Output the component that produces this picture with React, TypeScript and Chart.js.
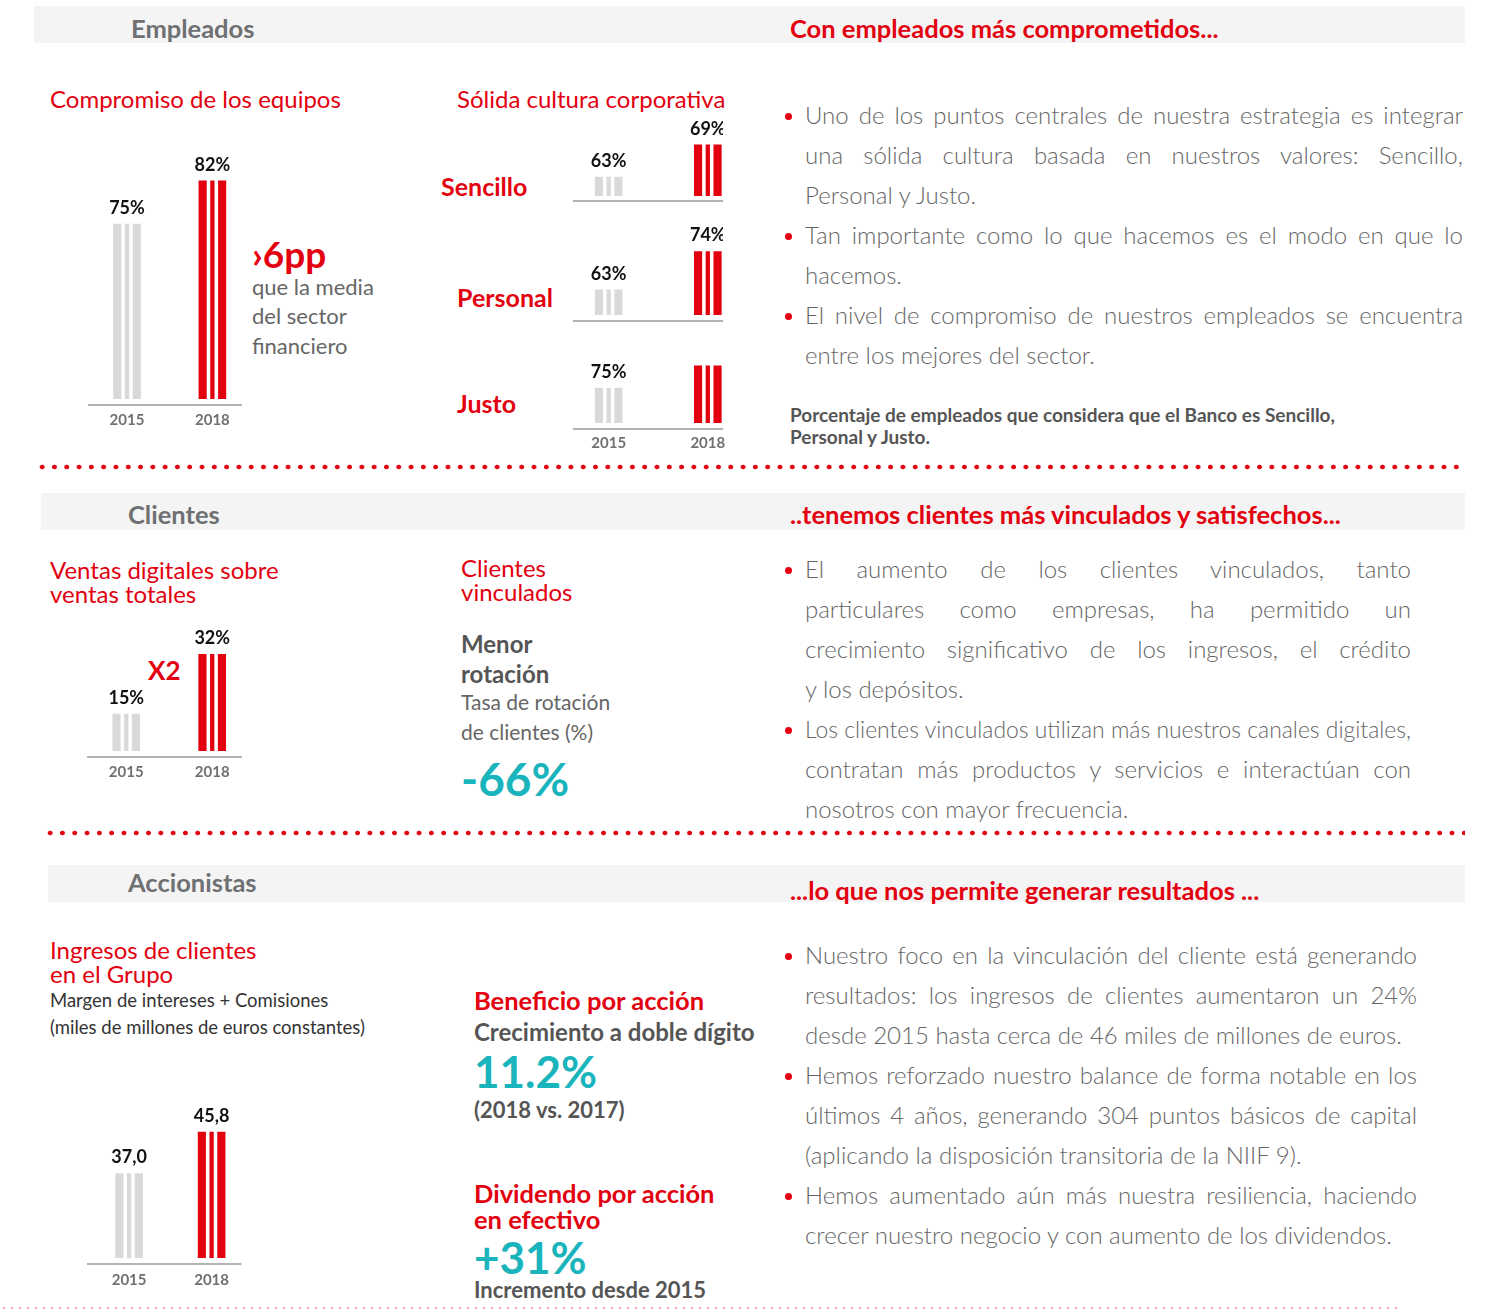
import React, { useEffect, useLayoutEffect, useRef } from "react";
import { Chart, registerables } from "chart.js";

Chart.register(...registerables);
Chart.defaults.font.family = "Lato";

// ---------- DATA ----------
const YEARS = [2015, 2018];
const compromisoValues = [75, 82];
const compromisoLabels = ["75%", "82%"];
const sencilloValues = [63, 69];
const sencilloLabels = ["63%", "69%"];
const personalValues = [63, 74];
const personalLabels = ["63%", "74%"];
const justoValues = [75, 79];
const justoLabels = ["75%", ""];
const ventasValues = [15, 32];
const ventasLabels = ["15%", "32%"];
const ingresosValues = [37.0, 45.8];
const ingresosLabels = ["37,0", "45,8"];
const barColors = ["#d9d9d9", "#e3000f"];

const RED = "#e3000f";
const TEAL = "#1ab4bd";
const GRAY = "#666666";
const DARK = "#555555";
const HEAD = "#6e7072";

type ChartProps = {
  left: number; top: number; width: number; height: number;
  values: number[]; labels: string[];
  xMin: number; xMax: number; yMin: number; yMax: number; lineMax?: number;
  showTicks: boolean; tickPad?: number; padBottom?: number; gap?: number;
};

function StripedBars(p: ChartProps) {
  const ref = useRef<HTMLCanvasElement>(null);
  useEffect(() => {
    if (!ref.current) return;
    const labels = p.labels;
    const gap = p.gap ?? 6;
    const plugin = {
      id: "stripes",
      afterDatasetsDraw(chart: any) {
        const ctx = chart.ctx;
        const meta = chart.getDatasetMeta(0);
        const { left, bottom } = chart.chartArea;
        const xs = chart.scales.x;
        const right = xs.getPixelForValue(p.lineMax ?? p.xMax);
        ctx.save();
        meta.data.forEach((bar: any, i: number) => {
          const { x, y, base, width } = bar.getProps(["x", "y", "base", "width"], true);
          const l = x - width / 2;
          const b = Math.min(base, bottom);
          ctx.fillStyle = "#ffffff";
          ctx.fillRect(l + width * 0.29, y - 1, width * 0.13, b - y + 1);
          ctx.fillRect(l + width * 0.58, y - 1, width * 0.13, b - y + 1);
          if (labels[i]) {
            ctx.fillStyle = "#111111";
            ctx.font = "bold 18px Lato";
            ctx.textAlign = "center";
            ctx.textBaseline = "middle";
            ctx.fillText(labels[i], x, y - 16);
          }
        });
        ctx.strokeStyle = "#9a9a9a";
        ctx.lineWidth = 1.5;
        ctx.beginPath();
        ctx.moveTo(left, bottom + gap);
        ctx.lineTo(right, bottom + gap);
        ctx.stroke();
        ctx.restore();
      },
    };
    const chart = new Chart(ref.current, {
      type: "bar",
      data: {
        datasets: [
          {
            data: YEARS.map((yr, i) => ({ x: yr, y: p.values[i] })) as any,
            backgroundColor: barColors,
            barThickness: 27,
            borderWidth: 0,
          },
        ],
      },
      options: {
        animation: false,
        responsive: false,
        events: [],
        layout: { autoPadding: false, padding: { left: 0, right: 0, top: 0, bottom: p.padBottom ?? 0 } },
        plugins: { legend: { display: false }, tooltip: { enabled: false } },
        scales: {
          x: {
            type: "linear",
            offset: false,
            min: p.xMin,
            max: p.xMax,
            display: true,
            grid: { display: false, drawTicks: false, offset: false },
            border: { display: false },
            afterBuildTicks: (axis: any) => {
              axis.ticks = YEARS.map((v) => ({ value: v }));
            },
            ticks: {
              display: p.showTicks,
              autoSkip: false,
              maxRotation: 0,
              padding: p.tickPad ?? 12,
              color: "#707070",
              font: { size: 15, weight: "bold", family: "Lato" },
              callback: (v: any) => String(v),
            },
          },
          y: { display: false, min: p.yMin, max: p.yMax },
        },
      } as any,
      plugins: [plugin],
    });
    return () => chart.destroy();
  }, []);
  return (
    <canvas
      ref={ref}
      width={p.width}
      height={p.height}
      style={{ position: "absolute", left: p.left, top: p.top, width: p.width, height: p.height }}
    />
  );
}

type TProps = {
  x: number; y: number; size: number; text: string;
  weight?: number | string; color?: string; w?: number; justify?: boolean;
};

function T({ x, y, size, text, weight = 400, color = GRAY, w, justify }: TProps) {
  const ref = useRef<HTMLSpanElement>(null);
  useLayoutEffect(() => {
    const s = ref.current;
    if (!s || !justify || !w) return;
    const natural = s.getBoundingClientRect().width;
    const spaces = (text.match(/ /g) || []).length;
    if (natural < w && spaces > 0) {
      s.style.wordSpacing = `${(w - natural) / spaces}px`;
    } else if (natural > w) {
      s.style.transform = `scaleX(${w / natural})`;
      s.style.transformOrigin = "left center";
    }
  }, [text, w, justify]);
  return (
    <span
      ref={ref}
      style={{
        position: "absolute",
        left: x,
        top: y - size * 0.47,
        fontSize: size,
        lineHeight: `${size * 0.9}px`,
        whiteSpace: "pre",
        fontWeight: weight as any,
        color,
        fontFamily: "Lato",
        display: "inline-block",
      }}
    >
      {text}
    </span>
  );
}

function Band({ left, top, width }: { left: number; top: number; width: number }) {
  return <div style={{ position: "absolute", left, top, width, height: 37, background: "#f4f4f4" }} />;
}

function Dots({ left, y, width, color = RED, step = 12.3, r = 2 }: { left: number; y: number; width: number; color?: string; step?: number; r?: number }) {
  return (
    <div
      style={{
        position: "absolute",
        left: left - step / 2,
        top: y - 3,
        width,
        height: 6,
        backgroundImage: `radial-gradient(circle at center, ${color} ${r}px, transparent ${r + 0.7}px)`,
        backgroundSize: `${step}px 6px`,
        backgroundRepeat: "repeat-x",
      }}
    />
  );
}

function Bullet({ y }: { y: number }) {
  return (
    <div style={{ position: "absolute", left: 785, top: y - 2.5, width: 7, height: 7, borderRadius: 4, background: RED }} />
  );
}

type Line = [string, boolean];
const empParas: Line[][] = [
  [
    ["Uno de los puntos centrales de nuestra estrategia es integrar", true],
    ["una sólida cultura basada en nuestros valores: Sencillo,", true],
    ["Personal y Justo.", false],
  ],
  [
    ["Tan importante como lo que hacemos es el modo en que lo", true],
    ["hacemos.", false],
  ],
  [
    ["El nivel de compromiso de nuestros empleados se encuentra", true],
    ["entre los mejores del sector.", false],
  ],
];
const cliParas: Line[][] = [
  [
    ["El aumento de los clientes vinculados, tanto", true],
    ["particulares como empresas, ha permitido un", true],
    ["crecimiento significativo de los ingresos, el crédito", true],
    ["y los depósitos.", false],
  ],
  [
    ["Los clientes vinculados utilizan más nuestros canales digitales,", true],
    ["contratan más productos y servicios e interactúan con", true],
    ["nosotros con mayor frecuencia.", false],
  ],
];
const accParas: Line[][] = [
  [
    ["Nuestro foco en la vinculación del cliente está generando", true],
    ["resultados: los ingresos de clientes aumentaron un 24%", true],
    ["desde 2015 hasta cerca de 46 miles de millones de euros.", false],
  ],
  [
    ["Hemos reforzado nuestro balance de forma notable en los", true],
    ["últimos 4 años, generando 304 puntos básicos de capital", true],
    ["(aplicando la disposición transitoria de la NIIF 9).", false],
  ],
  [
    ["Hemos aumentado aún más nuestra resiliencia, haciendo", true],
    ["crecer nuestro negocio y con aumento de los dividendos.", false],
  ],
];

function Paras({ paras, y0, right }: { paras: Line[][]; y0: number; right: number }) {
  const out: React.ReactNode[] = [];
  let y = y0;
  paras.forEach((para, pi) => {
    out.push(<Bullet key={`b${pi}`} y={y} />);
    para.forEach(([txt, j], li) => {
      out.push(<T key={`l${pi}-${li}`} x={805} y={y} size={24} weight={300} color="#666666" text={txt} w={right - 805} justify={j} />);
      y += 40;
    });
  });
  return <>{out}</>;
}

export default function App() {
  return (
    <div style={{ position: "absolute", left: 0, top: 0, width: 1489, height: 1311, background: "#fff", overflow: "hidden", fontFamily: "Lato" }}>
      {/* Section 1 */}
      <Band left={34} top={6} width={1431} />
      <T x={131} y={29} size={25.5} weight={700} color={HEAD} text="Empleados" />
      <T x={790} y={29} size={25.5} weight={700} color={RED} text="Con empleados más comprometidos..." />
      <T x={50} y={99} size={24} color={RED} text="Compromiso de los equipos" />
      <T x={457} y={99} size={24} color={RED} text="Sólida cultura corporativa" />
      <T x={441} y={187} size={25} weight={700} color={RED} text="Sencillo" />
      <T x={457} y={298} size={25} weight={700} color={RED} text="Personal" />
      <T x={457} y={404} size={25} weight={700} color={RED} text="Justo" />
      <T x={252} y={254} size={37} weight={700} color={RED} text="›6pp" />
      <T x={252} y={287} size={22} text="que la media" />
      <T x={252} y={316} size={22} text="del sector" />
      <T x={252} y={346} size={22} text="financiero" />

      <StripedBars left={88} top={150} width={154} height={291} values={compromisoValues} labels={compromisoLabels}
        xMin={2013.63} xMax={2019.04} yMin={46.7} yMax={87.0} showTicks tickPad={12} />
      <StripedBars left={573} top={115} width={150} height={89} values={sencilloValues} labels={sencilloLabels}
        xMin={2013.92} xMax={2018.46} yMin={59.5} yMax={74.56} showTicks={false} padBottom={8} gap={5} />
      <StripedBars left={573} top={225} width={150} height={98} values={personalValues} labels={personalLabels}
        xMin={2013.92} xMax={2018.46} yMin={55.8} yMax={81.66} showTicks={false} padBottom={8} gap={6} />
      <StripedBars left={573} top={355} width={165} height={108} values={justoValues} labels={justoLabels}
        xMin={2013.92} xMax={2018.914} lineMax={2018.46} yMin={68.7} yMax={80.94} showTicks tickPad={11} />

      <Paras paras={empParas} y0={115} right={1463} />
      <T x={790} y={415} size={19} weight={700} color={DARK} text="Porcentaje de empleados que considera que el Banco es Sencillo," />
      <T x={790} y={437} size={19} weight={700} color={DARK} text="Personal y Justo." />

      <Dots left={42} y={467} width={1429} />

      {/* Section 2 */}
      <Band left={41} top={493} width={1424} />
      <T x={128} y={515} size={25.5} weight={700} color={HEAD} text="Clientes" />
      <T x={790} y={515} size={25.5} weight={700} color={RED} text="..tenemos clientes más vinculados y satisfechos..." />
      <T x={50} y={570} size={24} color={RED} text="Ventas digitales sobre" />
      <T x={50} y={594} size={24} color={RED} text="ventas totales" />
      <T x={148} y={671} size={26} weight={700} color={RED} text="X2" />
      <StripedBars left={87} top={625} width={155} height={168} values={ventasValues} labels={ventasLabels}
        xMin={2013.63} xMax={2019.04} yMin={4.5} yMax={40.3} showTicks tickPad={12} />

      <T x={461} y={568} size={24} color={RED} text="Clientes" />
      <T x={461} y={592} size={24} color={RED} text="vinculados" />
      <T x={461} y={644} size={24} weight={700} color={DARK} text="Menor" />
      <T x={461} y={674} size={24} weight={700} color={DARK} text="rotación" />
      <T x={461} y={703} size={21} text="Tasa de rotación" />
      <T x={461} y={733} size={21} text="de clientes (%)" />
      <T x={461} y={780} size={46} weight={700} color={TEAL} text="-66%" />

      <Paras paras={cliParas} y0={569} right={1411} />

      <Dots left={50} y={833} width={1421} />

      {/* Section 3 */}
      <Band left={48} top={865} width={1417} />
      <T x={128} y={883} size={25.5} weight={700} color={HEAD} text="Accionistas" />
      <T x={790} y={891} size={25.5} weight={700} color={RED} text="...lo que nos permite generar resultados ..." />
      <T x={50} y={950} size={24} color={RED} text="Ingresos de clientes" />
      <T x={50} y={974} size={24} color={RED} text="en el Grupo" />
      <T x={50} y={1001} size={18.5} color="#333333" text="Margen de intereses + Comisiones" />
      <T x={50} y={1028} size={18.5} color="#333333" text="(miles de millones de euros constantes)" />
      <StripedBars left={87} top={1105} width={155} height={197} values={ingresosValues} labels={ingresosLabels}
        xMin={2013.47} xMax={2019.09} yMin={19.2} yMax={51.5} showTicks tickPad={13} />

      <T x={474} y={1001} size={25.5} weight={700} color={RED} text="Beneficio por acción" />
      <T x={474} y={1032} size={24} weight={700} color={DARK} text="Crecimiento a doble dígito" />
      <T x={474} y={1073} size={44} weight={700} color={TEAL} text="11.2%" />
      <T x={474} y={1110} size={22} weight={700} color={DARK} text="(2018 vs. 2017)" />
      <T x={474} y={1194} size={25.5} weight={700} color={RED} text="Dividendo por acción" />
      <T x={474} y={1220} size={25.5} weight={700} color={RED} text="en efectivo" />
      <T x={474} y={1259} size={44} weight={700} color={TEAL} text="+31%" />
      <T x={474} y={1290} size={22} weight={700} color={DARK} text="Incremento desde 2015" />

      <Paras paras={accParas} y0={955} right={1417} />

      <Dots left={4} y={1308} width={1400} color="#f3b3b3" step={8} r={1} />
    </div>
  );
}
